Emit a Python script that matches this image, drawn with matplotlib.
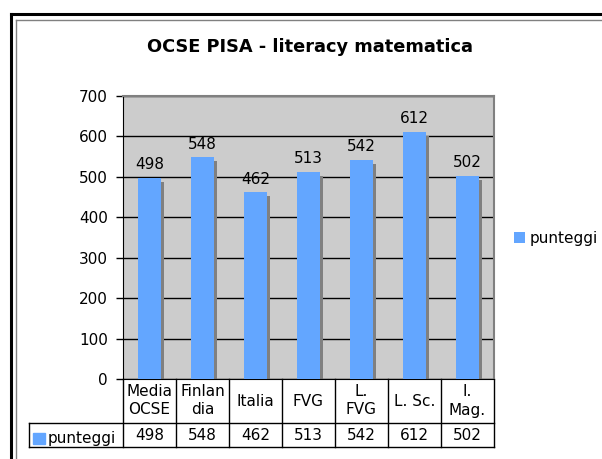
import matplotlib
matplotlib.use("Agg")
import matplotlib.pyplot as plt
import matplotlib.transforms as mtransforms
from matplotlib.lines import Line2D
from matplotlib.patches import Rectangle
import numpy as np

# Dati
categorie = ["Media\nOCSE", "Finlan\ndia", "Italia", "FVG", "L.\nFVG", "L. Sc.", "I.\nMag."]
punteggi = [498, 548, 462, 513, 542, 612, 502]
serie = "punteggi"
titolo = "OCSE PISA - literacy matematica"

W, H = 602, 459
BLU = "#63A6FF"
GRIGIO_AREA = "#CCCCCC"
FS = 11

plt.rcParams["font.family"] = ["DejaVu Sans"]

fig = plt.figure(figsize=(W / 100, H / 100), dpi=100)
fig.patch.set_facecolor("white")

# area del grafico (pixel -> frazioni)
x0, x1 = 123, 494
y_top, y_zero = 96, 379
ax = fig.add_axes([x0 / W, (H - y_zero) / H, (x1 - x0) / W, (y_zero - y_top) / H])
ax.set_facecolor(GRIGIO_AREA)

x = np.arange(len(categorie))

# ombra delle barre (effetto 3D)
ombra = ax.transData + mtransforms.ScaledTranslation(3 / 100, -4 / 100, fig.dpi_scale_trans)
ax.bar(x, punteggi, width=0.42, color="#808080", transform=ombra, zorder=2)
barre = ax.bar(x, punteggi, width=0.42, color=BLU, zorder=3, label=serie)

for xi, v in zip(x, punteggi):
    ax.text(xi, v + 14, str(v), ha="center", va="bottom", fontsize=FS, zorder=4)

ax.set_xlim(-0.5, len(categorie) - 0.5)
ax.set_ylim(0, 700)
ax.set_yticks(range(0, 701, 100))
ax.set_xticks([])
ax.tick_params(axis="y", direction="out", length=5, width=1, pad=6, labelsize=FS)
ax.yaxis.grid(True, color="black", linewidth=1)
ax.set_axisbelow(True)

for lato in ["top", "right"]:
    ax.spines[lato].set_color("#808080")
    ax.spines[lato].set_linewidth(1.5)
ax.spines["left"].set_color("black")
ax.spines["bottom"].set_color("black")

# tabella dati sotto il grafico
tr = mtransforms.blended_transform_factory(ax.transData, ax.transAxes)
alt = y_zero - y_top
r1 = -(423 - y_zero) / alt
r2 = -(447 - y_zero) / alt
x_tab = (29 - x0) / ((x1 - x0) / len(categorie)) - 0.5

kw = dict(transform=tr, color="black", linewidth=1, clip_on=False)
for k in range(len(categorie) + 1):
    ax.add_line(Line2D([k - 0.5, k - 0.5], [0, r2], **kw))
ax.add_line(Line2D([x_tab, len(categorie) - 0.5], [r1, r1], **kw))
ax.add_line(Line2D([x_tab, len(categorie) - 0.5], [r2, r2], **kw))
ax.add_line(Line2D([x_tab, x_tab], [r1, r2], **kw))

for xi, cat, v in zip(x, categorie, punteggi):
    ax.text(xi, r1 / 2, cat, transform=tr, ha="center", va="center",
            fontsize=FS, linespacing=1.25, clip_on=False)
    ax.text(xi, (r1 + r2) / 2, str(v), transform=tr, ha="center", va="center",
            fontsize=FS, clip_on=False)

fig.add_artist(Rectangle((33 / W, (H - 444) / H), 12 / W, 11 / H,
                         transform=fig.transFigure, color=BLU))
fig.text(48 / W, (H - 438) / H, serie, ha="left", va="center", fontsize=FS)

# legenda
ax.legend(handles=[barre], loc="center left", bbox_to_anchor=(500 / W, (H - 238) / H),
          bbox_transform=fig.transFigure, frameon=False, fontsize=FS,
          handlelength=0.75, handleheight=0.75, handletextpad=0.3)

# titolo
fig.text(310 / W, (H - 47) / H, titolo, ha="center", va="center",
         fontsize=12.8, fontweight="bold")

# cornice
fig.add_artist(Line2D([10.5 / W, 10.5 / W], [0, (H - 13.5) / H], color="black", linewidth=2.2))
fig.add_artist(Line2D([10.5 / W, 1], [(H - 13.5) / H, (H - 13.5) / H], color="black", linewidth=2.2))
fig.add_artist(Line2D([16 / W, 16 / W], [0, (H - 20) / H], color="#808080", linewidth=1))
fig.add_artist(Line2D([16 / W, 1], [(H - 20) / H, (H - 20) / H], color="#808080", linewidth=1))

fig.savefig("out.png", dpi=100)
